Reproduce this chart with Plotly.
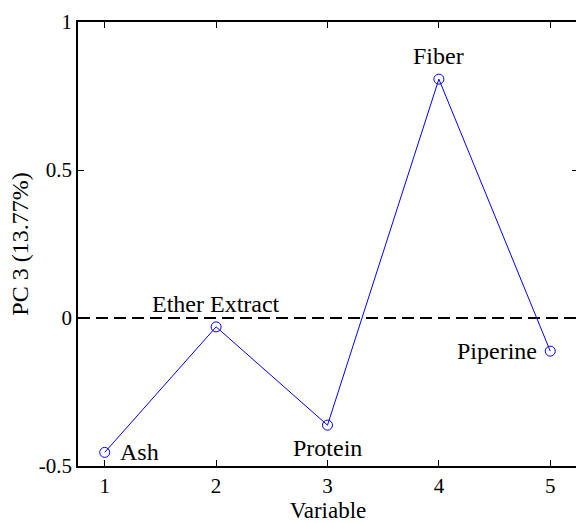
import plotly.graph_objects as go

variables = [1, 2, 3, 4, 5]
pc3 = [-0.454, -0.030, -0.362, 0.807, -0.112]
labels = ["Ash", "Ether Extract", "Protein", "Fiber", "Piperine"]
label_pos = ["right", "top", "bottom", "top", "left"]
x_ticks = [1, 2, 3, 4, 5]
y_ticks = [-0.5, 0, 0.5, 1]
y_tick_text = ["-0.5", "0", "0.5", "1"]

FONT = "Liberation Serif"
BLUE = "rgb(0,0,255)"

fig = go.Figure()
fig.add_hline(y=0, line=dict(color="black", width=2, dash="12px,6px"), layer="below")
fig.add_trace(go.Scatter(
    x=variables, y=pc3, mode="lines+markers",
    line=dict(color=BLUE, width=1),
    marker=dict(symbol="circle-open", size=10, color=BLUE, line=dict(width=1)),
    showlegend=False, hoverinfo="skip",
))

for xv, yv, lab, pos in zip(variables, pc3, labels, label_pos):
    kw = {}
    if pos == "right":
        kw = dict(xanchor="left", yanchor="middle", xshift=13)
    elif pos == "left":
        kw = dict(xanchor="right", yanchor="middle", xshift=-11)
    elif pos == "top":
        kw = dict(xanchor="center", yanchor="bottom", yshift=8)
    elif pos == "bottom":
        kw = dict(xanchor="center", yanchor="top", yshift=-8)
    fig.add_annotation(x=xv, y=yv, text=lab, showarrow=False,
                       font=dict(family=FONT, size=24, color="black"), **kw)

axis_common = dict(showgrid=False, zeroline=False, showline=True, linecolor="black",
                   linewidth=1.5, ticks="inside", ticklen=6, tickcolor="black", tickwidth=1,
                   automargin=False,
                   tickfont=dict(family=FONT, size=21, color="black"))

fig.update_layout(
    width=578, height=523,
    margin=dict(l=78, r=0, t=22, b=57),
    paper_bgcolor="white", plot_bgcolor="white",
    xaxis=dict(range=[0.760, 5.249], tickvals=x_ticks, mirror="ticks",
               title=dict(text="Variable", font=dict(family=FONT, size=23, color="black"), standoff=3),
               **axis_common),
    yaxis=dict(range=[-0.5, 1], tickvals=y_ticks, ticktext=y_tick_text, mirror="ticks",
               title=dict(text="PC 3 (13.77%)", font=dict(family=FONT, size=24, color="black"), standoff=3),
               **axis_common),
)

fig.write_html("out.html", config={"displayModeBar": False},
               post_script="document.body.style.margin='0';document.body.style.padding='0';"
                           "document.body.style.overflow='hidden';"
                           "document.documentElement.style.overflow='hidden';")
